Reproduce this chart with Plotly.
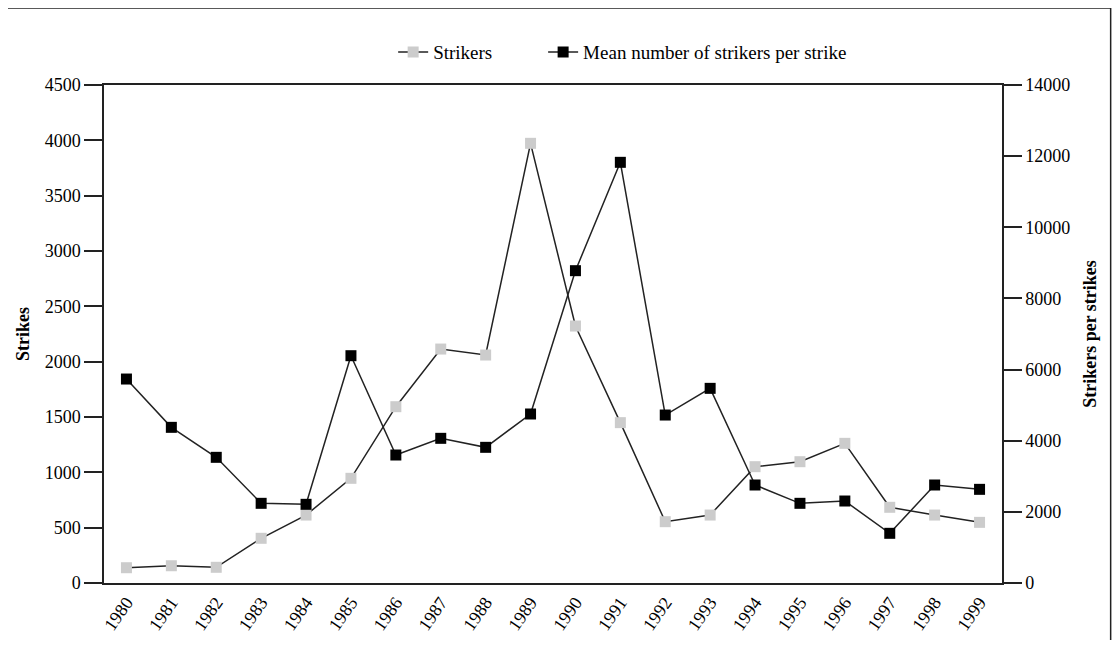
import plotly.graph_objects as go

years = [str(y) for y in range(1980, 2000)]
strikers = [138, 156, 142, 404, 614, 946, 1593, 2114, 2060, 3973,
            2322, 1449, 554, 614, 1051, 1096, 1262, 684, 614, 548]
mean_per_strike = [5734, 4376, 3533, 2240, 2212, 6390, 3598, 4067, 3814, 4751,
                   8780, 11826, 4722, 5472, 2755, 2240, 2305, 1397, 2755, 2633]

left_ticks = [0, 500, 1000, 1500, 2000, 2500, 3000, 3500, 4000, 4500]
right_ticks = [0, 2000, 4000, 6000, 8000, 10000, 12000, 14000]

FONT = "Liberation Serif, Times New Roman, serif"

fig = go.Figure()
fig.add_trace(go.Scatter(
    x=years, y=strikers, name="Strikers", mode="lines+markers",
    line=dict(color="#222222", width=1.5),
    marker=dict(symbol="square", size=11, color="#cccccc"),
    yaxis="y", legend="legend",
))
fig.add_trace(go.Scatter(
    x=years, y=mean_per_strike, name="Mean number of strikers per strike",
    mode="lines+markers",
    line=dict(color="#222222", width=1.5),
    marker=dict(symbol="square", size=11, color="#000000"),
    yaxis="y2", legend="legend2",
))

legend_common = dict(orientation="h", xanchor="left", y=1.066, yanchor="middle",
                     font=dict(family=FONT, size=19), bgcolor="rgba(0,0,0,0)",
                     itemclick=False)

fig.update_layout(
    width=1104, height=632,
    margin=dict(l=96, r=110, t=77, b=57),
    paper_bgcolor="white", plot_bgcolor="white",
    font=dict(family=FONT, size=18, color="black"),
    showlegend=True,
    legend=dict(x=0.322, **legend_common),
    legend2=dict(x=0.489, **legend_common),
    xaxis=dict(
        type="category", range=[-0.5, 19.5], automargin=False,
        showgrid=False, showline=True, linecolor="#222222", linewidth=1.5,
        mirror=True, ticks="", tickangle=-55, tickfont=dict(size=18),
    ),
    yaxis=dict(
        range=[0, 4500], tickvals=left_ticks, showgrid=False, zeroline=False,
        automargin=False,
        showline=True, linecolor="#222222", linewidth=1.5,
        ticks="outside", ticklen=18, tickwidth=1.5, tickcolor="#222222",
        tickfont=dict(size=18),
        title=dict(text="<b>Strikes</b>", standoff=10, font=dict(size=18)),
    ),
    yaxis2=dict(
        range=[0, 14000], tickvals=right_ticks, tickformat="d",
        overlaying="y", side="right", automargin=False,
        showgrid=False, zeroline=False,
        showline=True, linecolor="#222222", linewidth=1.5,
        ticks="outside", ticklen=18, tickwidth=1.5, tickcolor="#222222",
        tickfont=dict(size=18),
        title=dict(text="<b>Strikers per strikes</b>", standoff=14, font=dict(size=18)),
    ),
    shapes=[
        dict(type="line", xref="paper", yref="paper",
             x0=-0.12, x1=1.121, y0=1.1546, y1=1.1546,
             line=dict(color="#222222", width=1.5)),
        dict(type="line", xref="paper", yref="paper",
             x0=1.121, x1=1.121, y0=-0.12, y1=1.16,
             line=dict(color="#222222", width=1.5)),
    ],
)

fig.write_html("out.html")
